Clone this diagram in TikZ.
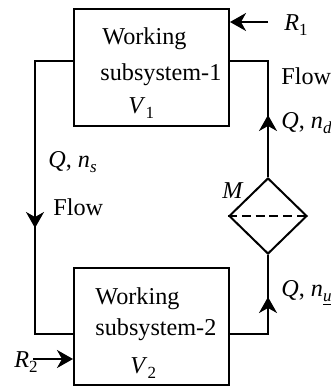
\documentclass[tikz,border=0pt]{standalone}
\usepackage{fontspec}
\setmainfont{Liberation Serif}
\usetikzlibrary{arrows.meta,shapes.geometric}
\newcommand\subx[1]{\raisebox{-2.5pt}{\fontsize{8.5}{8.5}\selectfont #1}}
\begin{document}
\begin{tikzpicture}[x=0.5pt,y=-0.5pt,
  every node/.style={font=\fontsize{12.1}{14}\selectfont},
  box/.style={draw,line width=1pt,minimum width=77.5pt,minimum height=58.5pt,inner sep=0pt},
  conn/.style={line width=1pt},
  tip/.style={-{Stealth[length=8pt,width=9pt,inset=2.5pt]}},
  lbl/.style={anchor=base west,inner sep=0pt},
]
\useasboundingbox (0,0) rectangle (331,386);
\clip (0,0) rectangle (331,386);
\node[box] (b1) at (151.5,67.5) {};
\node[box] (b2) at (151.5,326.5) {};
\node[draw,diamond,line width=1pt,minimum width=39pt,minimum height=38pt,inner sep=0pt] (m) at (268,216) {};
\draw[line width=1pt,dash pattern=on 4.5pt off 2.4pt] (m.west) -- (m.east);

\coordinate (l1) at (35,61);
\coordinate (l2) at (35,334);
\coordinate (la) at (35,228);
\draw[conn] (b1.west |- l1) -- (l1) -- (l2) -- (b2.west |- l2);
\draw[conn,tip] (l1) -- (la);

\coordinate (r1) at (268,61);
\coordinate (r2) at (268,334);
\coordinate (ra) at (268,115);
\coordinate (rb) at (268,297);
\draw[conn] (b1.east |- r1) -- (r1) -- (m.north);
\draw[conn,tip] (m.north) -- (ra);
\draw[conn] (b2.east |- r2) -- (r2) -- (m.south);
\draw[conn,tip] (r2) -- (rb);

\coordinate (r1s) at (268,22);
\draw[conn,tip] (r1s) -- (b1.east |- r1s);
\coordinate (r2s) at (33,359);
\draw[conn,tip] (r2s) -- (b2.west |- r2s);

\node[lbl] (t1a) at (102,44) {Working};
\node[lbl] (t1b) at (100,80) {subsystem-1};
\node[lbl] (t1c) at (128,113) {\textit{V}\subx{1}};
\node[lbl] (t2a) at (95,304) {Working};
\node[lbl] (t2b) at (95,335) {subsystem-2};
\node[lbl] (t2c) at (130,373) {\textit{V}\subx{2}};

\node[lbl] (lr1) at (284,30) {\textit{R}\subx{1}};
\node[lbl] (lr2) at (14,367) {\textit{R}\subx{2}};
\node[lbl] (fr) at (281,84) {Flow};
\node[lbl] (qd) at (281,128) {\textit{Q}, \textit{n}\subx{\textit{d}}};
\node[lbl] (qs) at (48,167) {\textit{Q}, \textit{n}\subx{\textit{s}}};
\node[lbl] (fl) at (53,215) {Flow};
\node[lbl] (mm) at (222,198) {\textit{M}};
\node[lbl] (qu) at (281,296) {\textit{Q}, \textit{n}\subx{\underline{\textit{u}}}};
\end{tikzpicture}
\end{document}
